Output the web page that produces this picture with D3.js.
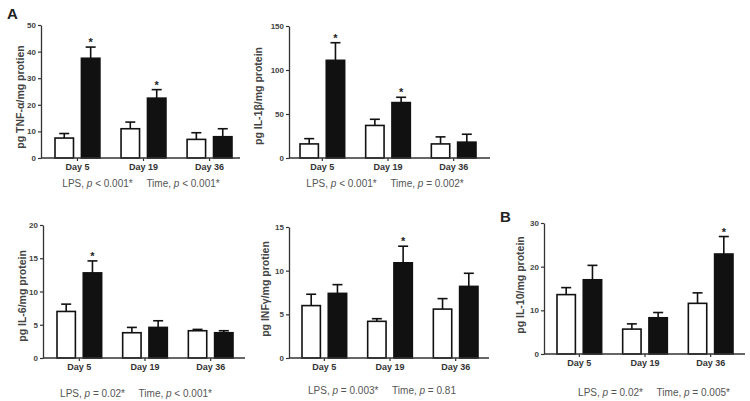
<!DOCTYPE html>
<html>
<head>
<meta charset="utf-8">
<script src="https://cdn.jsdelivr.net/npm/d3@7"></script>
<style>
  body { margin: 0; background: #fff; }
  text { font-family: "Liberation Sans", Arial, sans-serif; }
</style>
</head>
<body>
<script>
//categories
var days = ["Day 5", "Day 19", "Day 36"];

//mean values and SEM, control (white) and LPS (black)
var tnfCtrl = [7.5, 11, 7],      tnfCtrlErr = [1.7, 2.5, 2.5];
var tnfLps = [37.5, 22.5, 8],    tnfLpsErr = [4.2, 3.2, 3];
var il1Ctrl = [16, 37, 16],      il1CtrlErr = [6, 7, 8];
var il1Lps = [111, 63, 18],      il1LpsErr = [20, 6, 9];
var il6Ctrl = [7, 3.8, 4.1],     il6CtrlErr = [1.1, 0.8, 0.2];
var il6Lps = [12.8, 4.6, 3.8],   il6LpsErr = [1.8, 1, 0.3];
var ifnCtrl = [6, 4.2, 5.6],     ifnCtrlErr = [1.3, 0.3, 1.2];
var ifnLps = [7.4, 10.9, 8.2],   ifnLpsErr = [1, 1.9, 1.5];
var il10Ctrl = [13.6, 5.7, 11.6], il10CtrlErr = [1.6, 1.2, 2.4];
var il10Lps = [17, 8.3, 22.9],   il10LpsErr = [3.3, 1.2, 4];

//significance stars on LPS bars
var tnfStar = [1, 1, 0], il1Star = [1, 1, 0], il6Star = [1, 0, 0],
    ifnStar = [0, 1, 0], il10Star = [0, 0, 1];

//y axis ticks
var tnfTicks = [0, 10, 20, 30, 40, 50],
    il1Ticks = [0, 50, 100, 150],
    il6Ticks = [0, 5, 10, 15, 20],
    ifnTicks = [0, 5, 10, 15],
    il10Ticks = [0, 10, 20, 30];

var width = 750, height = 401;

var svg = d3.select("body")
    .append("svg")
    .attr("width", width)
    .attr("height", height);

var panels = [
    {ctrl: tnfCtrl, ctrlErr: tnfCtrlErr, lps: tnfLps, lpsErr: tnfLpsErr, star: tnfStar, ticks: tnfTicks,
     axisX: 41, top: 25, zero: 158, x0: 55, x1: 232, axisEnd: 240,
     title: "pg TNF-α/mg protien", titleX: 20, titleY: 97,
     lps_p: ["< 0.001*", "< 0.001*"], pY: 183, pX: 141},
    {ctrl: il1Ctrl, ctrlErr: il1CtrlErr, lps: il1Lps, lpsErr: il1LpsErr, star: il1Star, ticks: il1Ticks,
     axisX: 289, top: 26, zero: 158, x0: 300, x1: 476, axisEnd: 490,
     title: "pg IL-1β/mg protein", titleX: 258, titleY: 96,
     lps_p: ["< 0.001*", "= 0.002*"], pY: 183, pX: 385},
    {ctrl: il6Ctrl, ctrlErr: il6CtrlErr, lps: il6Lps, lpsErr: il6LpsErr, star: il6Star, ticks: il6Ticks,
     axisX: 43, top: 225, zero: 358, x0: 57, x1: 233, axisEnd: 245,
     title: "pg IL-6/mg protein", titleX: 22, titleY: 296,
     lps_p: ["= 0.02*", "< 0.001*"], pY: 393, pX: 136},
    {ctrl: ifnCtrl, ctrlErr: ifnCtrlErr, lps: ifnLps, lpsErr: ifnLpsErr, star: ifnStar, ticks: ifnTicks,
     axisX: 289, top: 227, zero: 358, x0: 302, x1: 478, axisEnd: 489,
     title: "pg INFγ/mg protien", titleX: 265, titleY: 289,
     lps_p: ["= 0.003*", "= 0.81"], pY: 390, pX: 382},
    {ctrl: il10Ctrl, ctrlErr: il10CtrlErr, lps: il10Lps, lpsErr: il10LpsErr, star: il10Star, ticks: il10Ticks,
     axisX: 544, top: 223, zero: 354, x0: 557, x1: 733, axisEnd: 745,
     title: "pg IL-10/mg protein", titleX: 520, titleY: 285,
     lps_p: ["= 0.02*", "= 0.005*"], pY: 392, pX: 654}
];

panels.forEach(drawPanel);

//panel letters
svg.append("text").attr("x", 7).attr("y", 19)
    .style("font-size", "15px").style("font-weight", "bold").attr("fill", "#222").text("A");
svg.append("text").attr("x", 500).attr("y", 222)
    .style("font-size", "15px").style("font-weight", "bold").attr("fill", "#222").text("B");

function drawPanel(p) {
    var g = svg.append("g");
    var maxV = d3.max(p.ticks);

    var y = d3.scaleLinear().domain([0, maxV]).range([p.zero, p.top]);

    //groups of bars
    var x = d3.scaleBand().domain(days).range([p.x0, p.x1]).paddingInner(0.32).paddingOuter(0);
    var sub = d3.scaleBand().domain(["ctrl", "lps"]).range([0, x.bandwidth()]).paddingInner(0.3);

    var rows = [];
    days.forEach(function (d, i) {
        rows.push({day: d, grp: "ctrl", v: p.ctrl[i], e: p.ctrlErr[i], star: 0});
        rows.push({day: d, grp: "lps", v: p.lps[i], e: p.lpsErr[i], star: p.star[i]});
    });

    //error bars (drawn first so the bar covers the lower part)
    rows.forEach(function (r) {
        var cx = x(r.day) + sub(r.grp) + sub.bandwidth() / 2;
        g.append("line")
            .attr("x1", cx).attr("x2", cx)
            .attr("y1", y(r.v)).attr("y2", y(r.v + r.e))
            .attr("stroke", "#111").attr("stroke-width", 1.6);
        g.append("line")
            .attr("x1", cx - 5).attr("x2", cx + 5)
            .attr("y1", y(r.v + r.e)).attr("y2", y(r.v + r.e))
            .attr("stroke", "#111").attr("stroke-width", 1.6);
        if (r.star) {
            g.append("text")
                .attr("x", cx).attr("y", y(r.v + r.e) - 1)
                .attr("text-anchor", "middle")
                .style("font-size", "11px").style("font-weight", "bold")
                .attr("fill", "#222").text("*");
        }
    });

    g.selectAll("rect.bar")
        .data(rows)
        .enter()
        .append("rect")
        .attr("class", "bar")
        .attr("x", function (d) { return x(d.day) + sub(d.grp); })
        .attr("width", sub.bandwidth())
        .attr("y", function (d) { return y(d.v); })
        .attr("height", function (d) { return p.zero - y(d.v); })
        .attr("fill", function (d) { return d.grp == "ctrl" ? "#fff" : "#111"; })
        .attr("stroke", "#111")
        .attr("stroke-width", 1.6);

    //y axis
    var yAxis = g.append("g")
        .attr("transform", "translate(" + p.axisX + ",0)")
        .call(d3.axisLeft(y).tickValues(p.ticks).tickSize(3).tickSizeOuter(0).tickPadding(2));
    yAxis.select(".domain").attr("stroke", "#333").attr("stroke-width", 1.3);
    yAxis.selectAll(".tick line").attr("stroke", "#333").attr("stroke-width", 1.2);
    yAxis.selectAll(".tick text")
        .style("font-size", "8px").style("font-weight", "bold").attr("fill", "#444")
        .style("font-family", "'Liberation Sans', Arial, sans-serif");

    //x axis
    var xAxis = g.append("g")
        .attr("transform", "translate(0," + p.zero + ")")
        .call(d3.axisBottom(x).tickSize(3).tickPadding(3));
    xAxis.select(".domain").remove();
    xAxis.selectAll(".tick line").attr("stroke", "#333").attr("stroke-width", 1.2);
    xAxis.selectAll(".tick text")
        .style("font-size", "9px").style("font-weight", "bold").attr("fill", "#333")
        .style("font-family", "'Liberation Sans', Arial, sans-serif");
    g.append("line")
        .attr("x1", p.axisX).attr("x2", p.axisEnd)
        .attr("y1", p.zero).attr("y2", p.zero)
        .attr("stroke", "#333").attr("stroke-width", 1.3);

    //y title
    g.append("text")
        .attr("transform", "translate(" + p.titleX + "," + p.titleY + ") rotate(-90)")
        .attr("text-anchor", "middle")
        .attr("dy", "0.35em")
        .style("font-size", "10.5px").style("font-weight", "bold").attr("fill", "#444")
        .text(p.title);

    //statistics line
    var t = g.append("text")
        .attr("x", p.pX).attr("y", p.pY)
        .attr("dy", "0.35em")
        .attr("text-anchor", "middle")
        .style("font-size", "10px").attr("fill", "#555")
        .attr("xml:space", "preserve");
    t.append("tspan").text("LPS, ");
    t.append("tspan").style("font-style", "italic").text("p");
    t.append("tspan").text(" " + p.lps_p[0] + "     Time, ");
    t.append("tspan").style("font-style", "italic").text("p");
    t.append("tspan").text(" " + p.lps_p[1]);
}
</script>
</body>
</html>
